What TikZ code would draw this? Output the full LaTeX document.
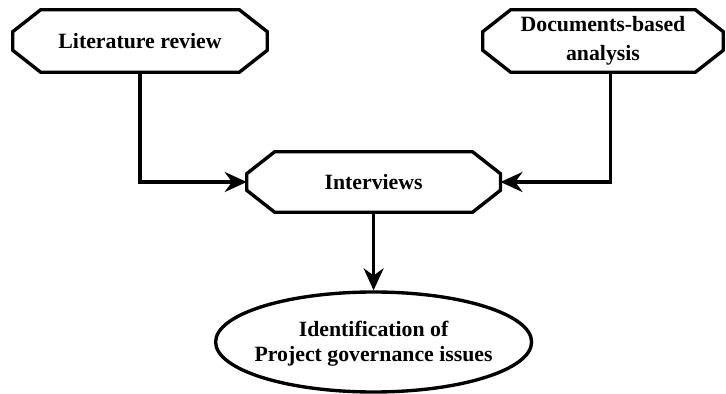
\documentclass[tikz,border=0pt]{standalone}
\usepackage{fontspec}
\setmainfont{Liberation Serif}
\usetikzlibrary{shapes.geometric,arrows.meta}
\begin{document}
\begin{tikzpicture}[line join=miter]

    \tikzset{
      stagebox/.style={
        rectangle,
        inner sep=0pt,
        align=center,
        font=\fontsize{15.5}{21}\selectfont\bfseries,
      },
      stageline/.style={
        line width=2.4pt,
      },
      outcome/.style={
        draw,
        line width=2.4pt,
        ellipse,
        inner sep=0pt,
        minimum width=7.9cm,
        minimum height=2.5cm,
      },
      outcometext/.style={
        inner sep=0pt,
        align=center,
        font=\fontsize{15.5}{18}\selectfont\bfseries,
      },
      flow/.style={
        line width=2.3pt,
        -{Stealth[length=5.5mm,width=5mm,inset=1.8mm]},
      },
    }
    \useasboundingbox (0,0) rectangle (18.15,-9.85);
    \node[stagebox, minimum width=6.35cm, minimum height=1.55cm] (litrev) at (3.5,-1.025) {Literature review};
    \node[stagebox, minimum width=6.0cm, minimum height=1.55cm] (docs) at (15.075,-1.025) {Documents-based\\analysis};
    \node[stagebox, minimum width=6.33cm, minimum height=1.5cm] (interv) at (9.34,-4.55) {Interviews};
    \node[outcome] (issues) at (9.34,-8.55) {};
    \node[outcometext] (issuestext) at ([yshift=-0.05cm]issues.center) {Identification of\\Project governance issues};
	\foreach \n in {litrev,docs,interv}
	  \draw[stageline] ([xshift=0.7cm]\n.north west) -- ([xshift=-0.7cm]\n.north east)
	    -- ([yshift=-0.55cm]\n.north east) -- ([yshift=0.55cm]\n.south east)
	    -- ([xshift=-0.7cm]\n.south east) -- ([xshift=0.7cm]\n.south west)
	    -- ([yshift=0.55cm]\n.south west) -- ([yshift=-0.55cm]\n.north west) -- cycle;
	\draw[flow] (litrev.south) |- (interv.west);
	\draw[flow] ([xshift=0.18cm]docs.south) |- (interv.east);
	\draw[flow] (interv.south) -- (issues.north);

\end{tikzpicture}
\end{document}
